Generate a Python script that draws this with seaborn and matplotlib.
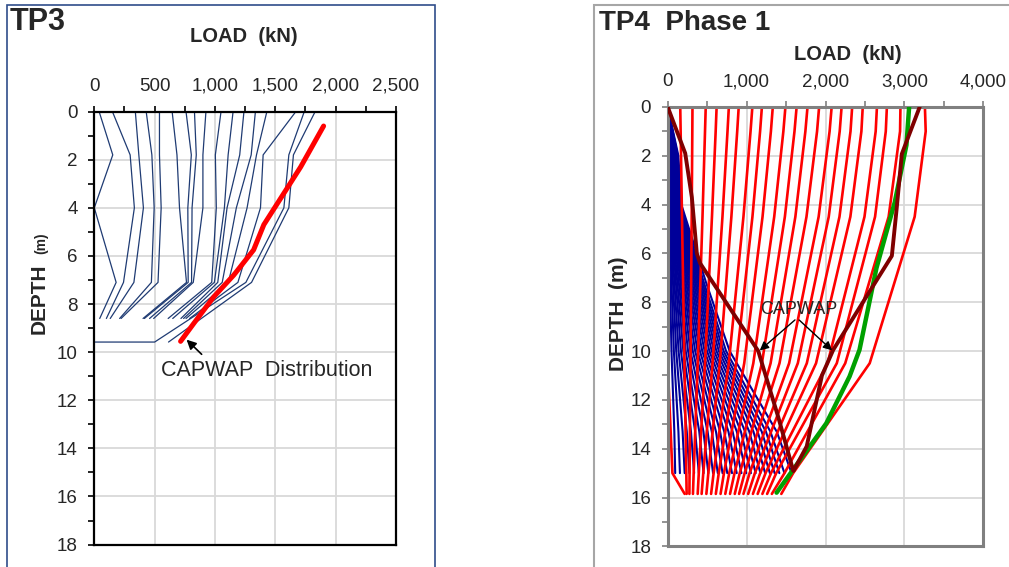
import pandas as pd
import matplotlib
matplotlib.use('Agg')
import matplotlib.pyplot as plt
import seaborn as sns
from matplotlib.patches import Rectangle
from matplotlib.ticker import MultipleLocator, FuncFormatter

# ---------------- TP3 data (load kN vs depth m) ----------------
tp3_depths = [0, 1.8, 4.0, 7.1, 8.6]
tp3_loads = [
    [40, 153, 0, 181, 45],
    [150, 297, 332, 242, 100],
    [340, 369, 407, 328, 132],
    [430, 477, 496, 473, 210],
    [540, 540, 554, 528, 222],
    [645, 685, 706, 764, 404],
    [760, 804, 775, 778, 415],
    [830, 845, 810, 806, 458],
    [925, 900, 900, 820, 492],
    [1050, 1003, 1011, 973, 612],
    [1150, 1109, 1078, 995, 650],
    [1240, 1205, 1100, 1023, 718],
    [1335, 1300, 1177, 1060, 740],
    [1430, 1344, 1266, 1110, 760],
    [1670, 1399, 1377, 1190, 790],
]
tp3_deep_depths = [0, 1.8, 4.0, 7.1, 9.58, 9.58]
tp3_deep_loads = [
    [1740, 1612, 1571, 1256, 500, 0],
    [1830, 1650, 1612, 1303, 615, 615],
]
tp3_capwap_depth = [0.6, 2.3, 3.6, 4.7, 5.75, 6.8, 7.7, 8.8, 9.55]
tp3_capwap_load = [1900, 1710, 1545, 1405, 1320, 1155, 990, 825, 715]

# ---------------- TP4 Phase 1 data ----------------
tp4_blue_depths = [0, 2, 4, 7.2, 10, 13.3, 15]
tp4_blue_loads = [
    [0, 8, 10, 29, 48, 84, 95],
    [0, 13, 17, 48, 78, 136, 155],
    [0, 18, 24, 67, 108, 189, 215],
    [0, 24, 30, 85, 138, 242, 275],
    [0, 29, 37, 104, 168, 295, 335],
    [0, 34, 43, 122, 198, 348, 395],
    [0, 39, 50, 141, 228, 400, 455],
    [0, 44, 57, 160, 258, 453, 515],
    [0, 49, 63, 178, 288, 506, 575],
    [0, 55, 70, 197, 318, 559, 635],
    [0, 60, 76, 215, 348, 612, 695],
    [0, 65, 83, 234, 378, 664, 755],
    [0, 70, 90, 253, 408, 717, 815],
    [0, 75, 96, 271, 438, 770, 875],
    [0, 80, 103, 290, 468, 823, 935],
    [0, 86, 109, 308, 498, 876, 995],
    [0, 91, 116, 327, 528, 928, 1055],
    [0, 96, 123, 346, 558, 981, 1115],
    [0, 101, 129, 364, 588, 1034, 1175],
    [0, 106, 136, 383, 618, 1087, 1235],
    [0, 111, 142, 401, 648, 1140, 1295],
    [0, 117, 149, 420, 678, 1192, 1355],
    [0, 122, 156, 439, 708, 1245, 1415],
    [0, 127, 163, 459, 740, 1302, 1480],
    [0, 135, 173, 487, 785, 1382, 1570],
]
tp4_red_depths = [0, 1, 4.5, 10.5, 15, 15.85]
tp4_red_loads = [
    [0, 0, 0, 0, 60, 215],
    [159, 164, 181, 212, 236, 240],
    [314, 312, 304, 289, 277, 275],
    [482, 473, 441, 381, 329, 320],
    [620, 608, 561, 473, 394, 380],
    [775, 758, 694, 569, 451, 430],
    [900, 881, 807, 660, 515, 490],
    [1073, 1050, 960, 774, 582, 550],
    [1194, 1171, 1074, 868, 647, 610],
    [1332, 1308, 1202, 970, 713, 670],
    [1492, 1466, 1350, 1085, 780, 730],
    [1634, 1607, 1485, 1194, 847, 790],
    [1772, 1745, 1618, 1304, 913, 850],
    [1919, 1893, 1759, 1417, 975, 905],
    [2078, 2052, 1913, 1539, 1038, 960],
    [2204, 2180, 2041, 1649, 1105, 1020],
    [2338, 2317, 2177, 1763, 1172, 1080],
    [2472, 2455, 2315, 1880, 1240, 1140],
    [2652, 2636, 2494, 2026, 1309, 1200],
    [2778, 2764, 2628, 2143, 1375, 1260],
    [2950, 2945, 2800, 2250, 1480, 1320],
    [3260, 3270, 3130, 2560, 1590, 1440],
]
tp4_green_depth = [0, 1.56, 3.9, 6.6, 9.95, 11.04, 12.96, 15.8]
tp4_green_load = [3060, 3026, 2878, 2646, 2431, 2305, 2010, 1380]
tp4_capwap1_depth = [0, 1.9, 3.7, 6.0, 6.4, 10.0, 10.9, 12.7, 14.9]
tp4_capwap1_load = [0, 222, 306, 369, 410, 1148, 1232, 1401, 1591]
tp4_capwap2_depth = [0, 1.93, 4.1, 6.1, 9.95, 11.0, 13.9, 14.9]
tp4_capwap2_load = [3194, 2967, 2904, 2841, 2098, 1955, 1762, 1595]


def to_frame(depths, loads_list):
    rows = []
    for k, loads in enumerate(loads_list):
        for d, l in zip(depths, loads):
            rows.append((k, l, d))
    return pd.DataFrame(rows, columns=['line', 'load', 'depth'])


def draw(ax, df, color, lw, z=2):
    sns.lineplot(data=df, x='load', y='depth', units='line', estimator=None,
                 sort=False, color=color, lw=lw, ax=ax, legend=False, zorder=z)


sns.set_style('whitegrid')
plt.rcParams['font.family'] = ['Liberation Sans', 'DejaVu Sans']

W, H = 1009, 567
fig = plt.figure(figsize=(W / 100, H / 100), dpi=100)


def rect(l, t, r, b):
    return [l / W, 1 - b / H, (r - l) / W, (b - t) / H]


ax1 = fig.add_axes(rect(94.3, 111.6, 396, 544.6))
ax2 = fig.add_axes(rect(667.7, 106.9, 983.3, 546.4))

# TP3
draw(ax1, to_frame(tp3_depths, tp3_loads), '#1F3B73', 0.9)
draw(ax1, to_frame(tp3_deep_depths, tp3_deep_loads), '#1F3B73', 0.9)
draw(ax1, pd.DataFrame({'line': 0, 'load': tp3_capwap_load, 'depth': tp3_capwap_depth}),
     '#FF0000', 3.6, z=3)
ax1.annotate('', xy=(748, 9.4), xytext=(906, 10.17),
             arrowprops=dict(arrowstyle='-|>', color='black', lw=1.2, mutation_scale=14))
ax1.text(554, 10.77, 'CAPWAP  Distribution', fontsize=15.5, va='center', ha='left')

# TP4
draw(ax2, to_frame(tp4_blue_depths, tp4_blue_loads), '#000099', 1.5)
draw(ax2, to_frame(tp4_red_depths, tp4_red_loads), '#FF0000', 1.9)
draw(ax2, pd.DataFrame({'line': 0, 'load': tp4_green_load, 'depth': tp4_green_depth}),
     '#00A000', 3.2, z=3)
draw(ax2, pd.DataFrame({'line': 0, 'load': tp4_capwap1_load, 'depth': tp4_capwap1_depth}),
     '#7F0000', 2.8, z=4)
draw(ax2, pd.DataFrame({'line': 0, 'load': tp4_capwap2_load, 'depth': tp4_capwap2_depth}),
     '#7F0000', 2.8, z=4)
ax2.text(1665, 8.3, 'CAPWAP', fontsize=13, va='center', ha='center', zorder=5)
for tip in [(1140, 10.05), (2110, 10.05)]:
    ax2.annotate('', xy=tip, xytext=(1640, 8.65),
                 arrowprops=dict(arrowstyle='-|>', color='black', lw=1.0, mutation_scale=13),
                 zorder=5)

comma = FuncFormatter(lambda v, p: f'{int(v):,}')
for ax, xmax, xstep, spine_c, spine_w in [(ax1, 2500, 500, 'black', 1.6),
                                          (ax2, 4000, 1000, '#808080', 2.2)]:
    ax.set_xlim(0, xmax)
    ax.set_ylim(18, 0)
    ax.xaxis.set_major_locator(MultipleLocator(xstep))
    ax.xaxis.set_minor_locator(MultipleLocator(xstep / 2))
    ax.yaxis.set_major_locator(MultipleLocator(2))
    ax.yaxis.set_minor_locator(MultipleLocator(1))
    ax.xaxis.set_major_formatter(comma)
    ax.xaxis.tick_top()
    ax.tick_params(axis='x', which='both', top=True, bottom=False, labeltop=True,
                   labelbottom=False, direction='out', color=spine_c)
    ax.tick_params(axis='y', which='both', left=True, right=False, direction='out',
                   color=spine_c)
    ax.tick_params(which='major', length=4, width=1.2, labelsize=13.5, pad=8)
    ax.tick_params(which='minor', length=4, width=1.2)
    ax.set_xlabel('')
    ax.set_ylabel('')
    ax.grid(True, which='major', color='#D9D9D9', lw=1.3)
    ax.set_axisbelow(True)
    for s in ax.spines.values():
        s.set_color(spine_c)
        s.set_linewidth(spine_w)
        s.set_visible(True)

# panel frames
fig.add_artist(Rectangle((7.3 / W, -0.02), (435 - 7.3) / W, 1 - 4.5 / H + 0.02,
                         transform=fig.transFigure, fill=False, ec='#2F4D8A', lw=1.2))
fig.add_artist(Rectangle((594 / W, -0.02), 0.5, 1 - 4.5 / H + 0.02,
                         transform=fig.transFigure, fill=False, ec='#A6A6A6', lw=1.5))

# titles and axis labels
fig.text(10 / W, 1 - 22 / H, 'TP3', fontsize=22, fontweight='bold', va='center')
fig.text(244 / W, 1 - 37 / H, 'LOAD  (kN)', fontsize=14.5, fontweight='bold',
         va='center', ha='center')
fig.text(39 / W, 1 - 299 / H, 'DEPTH', fontsize=15, fontweight='bold', rotation=90,
         va='center', ha='center')
fig.text(41 / W, 1 - 243 / H, '(m)', fontsize=10, fontweight='bold', rotation=90,
         va='center', ha='center')

fig.text(599 / W, 1 - 23.5 / H, 'TP4  Phase 1', fontsize=20, fontweight='bold',
         va='center')
fig.text(848 / W, 1 - 54 / H, 'LOAD  (kN)', fontsize=14.5, fontweight='bold',
         va='center', ha='center')
fig.text(618 / W, 1 - 314 / H, 'DEPTH  (m)', fontsize=15, fontweight='bold',
         rotation=90, va='center', ha='center')

fig.savefig('out.png', dpi=100)
